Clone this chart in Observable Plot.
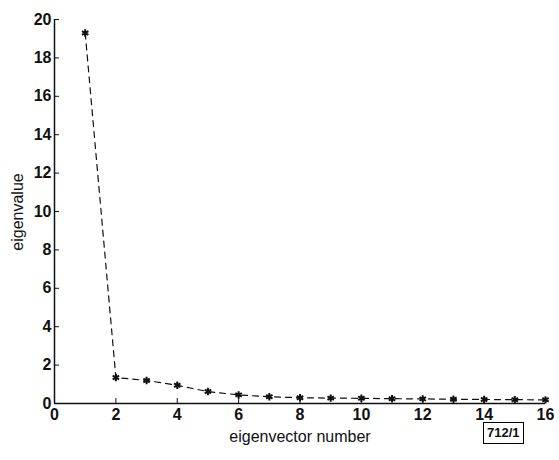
<!DOCTYPE html>
<html>
<head>
<meta charset="utf-8">
<script src="https://cdn.jsdelivr.net/npm/d3@7"></script>
<script src="https://cdn.jsdelivr.net/npm/@observablehq/plot@0.6"></script>
<style>
  body { margin: 0; background: #fff; }
  #wrap { position: relative; width: 559px; height: 460px; font-family: "Liberation Sans", Arial, sans-serif; }
  #tag { position: absolute; left: 483px; top: 422px; border: 1px solid #000; padding: 2px 3px; font-size: 13px; font-weight: bold; line-height: 16px; color: #111; }
</style>
</head>
<body>
<div id="wrap"></div>
<script>
const eigenvectorNumber = [1, 2, 3, 4, 5, 6, 7, 8, 9, 10, 11, 12, 13, 14, 15, 16];
const eigenvalue = [19.3, 1.35, 1.2, 0.95, 0.62, 0.45, 0.35, 0.3, 0.28, 0.27, 0.25, 0.24, 0.22, 0.21, 0.2, 0.19];
const xTicks = [0, 2, 4, 6, 8, 10, 12, 14, 16];
const yTicks = [0, 2, 4, 6, 8, 10, 12, 14, 16, 18, 20];
const xLabel = "eigenvector number";
const yLabel = "eigenvalue";
const tagText = "712/1";

const data = eigenvectorNumber.map((n, i) => ({n, v: eigenvalue[i]}));

const chart = Plot.plot({
  width: 559,
  height: 460,
  marginLeft: 54,
  marginRight: 14,
  marginTop: 19,
  marginBottom: 57,
  style: {fontFamily: "'Liberation Sans', Arial, sans-serif", color: "#111", background: "#fff"},
  x: {domain: [0, 16]},
  y: {domain: [0, 20]},
  marks: [
    Plot.axisX({ticks: xTicks, tickSize: -5, tickPadding: 10, label: null, fontSize: 16}),
    Plot.axisY({ticks: yTicks, tickSize: -5, tickPadding: 8, label: null, fontSize: 16}),
    Plot.ruleX([0], {stroke: "#111", strokeWidth: 1.5}),
    Plot.ruleY([0], {stroke: "#111", strokeWidth: 1.5}),
    Plot.line(data, {x: "n", y: "v", stroke: "#111", strokeWidth: 1.2, strokeDasharray: "6,5"}),
    Plot.dot(data, {x: "n", y: "v", symbol: "asterisk", r: 3.5, stroke: "#111", strokeWidth: 2})
  ]
});

const wrap = document.getElementById("wrap");
wrap.appendChild(chart);
const svg = d3.select(chart);
svg.selectAll("g[aria-label$='tick label']").attr("font-weight", "bold")
  .selectAll("text").attr("font-weight", "bold").style("font-weight", "bold");
svg.append("text").attr("x", 300).attr("y", 442).attr("text-anchor", "middle")
  .attr("font-size", 16).attr("fill", "#111").text(xLabel);
svg.append("text").attr("transform", "translate(23,212) rotate(-90)").attr("text-anchor", "middle")
  .attr("font-size", 16).attr("fill", "#111").text(yLabel);
const tag = document.createElement("div");
tag.id = "tag";
tag.textContent = tagText;
wrap.appendChild(tag);
</script>
</body>
</html>
